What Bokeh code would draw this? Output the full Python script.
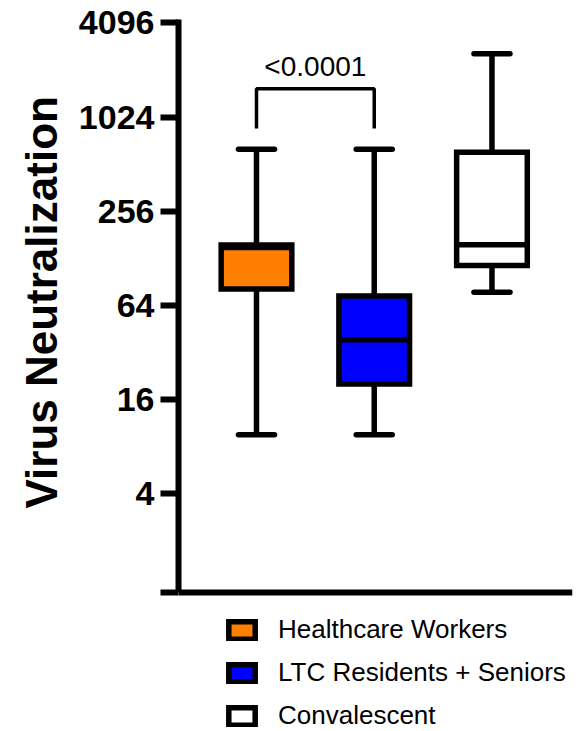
from bokeh.plotting import figure
from bokeh.models import Range1d, FixedTicker, Legend, LegendItem, Label, ColumnDataSource, Span, Title
from bokeh.embed import file_html
from bokeh.resources import INLINE

# ---- data ----
groups = ["Healthcare Workers", "LTC Residents + Seniors", "Convalescent"]
positions = [1, 2, 3]
colors = ["#FF8000", "#0000FF", "#FFFFFF"]
whisker_min = [9.5, 9.5, 77.6]
q1 = [81.4, 20.1, 115]
median = [150, 38.5, 156]
q3 = [155.6, 73.4, 611]
whisker_max = [638, 638, 2601]
y_ticks = [4, 16, 64, 256, 1024, 4096]
y_title = "Virus Neutralization"
p_label = "<0.0001"
# annotation bracket (between groups 1 and 2)
bracket_top = 1556
bracket_leg = 867
p_text_y = 2163

Y_AXIS_MIN = 2 ** -0.104
Y_AXIS_MAX = 2 ** 12.074
BOX_W = 0.6
CAP_HALF = 0.153

p = figure(width=578, height=731, output_backend="svg", toolbar_location=None,
           y_axis_type="log", x_axis_location=None,
           x_range=Range1d(0.3376, 3.684),
           y_range=Range1d(2 ** -3.058, Y_AXIS_MAX),
           min_border_left=178, min_border_right=6, min_border_top=19, min_border_bottom=0)
p.outline_line_color = None
p.grid.visible = False
p.background_fill_color = "white"
p.border_fill_color = "white"

# y axis
ya = p.yaxis[0]
ya.bounds = (Y_AXIS_MIN, Y_AXIS_MAX)
ya.ticker = FixedTicker(ticks=y_ticks + [Y_AXIS_MIN])
ya.major_label_overrides = {t: str(t) for t in y_ticks}
ya.major_label_overrides[Y_AXIS_MIN] = ""
ya.minor_tick_line_color = None
ya.axis_line_width = 6
ya.major_tick_line_width = 6
ya.major_tick_out = 18
ya.major_tick_in = 0
ya.major_label_standoff = 6
ya.major_label_text_font = "Liberation Sans"
ya.major_label_text_font_style = "bold"
ya.major_label_text_font_size = "34px"
ya.major_label_text_color = "black"

# y axis title, placed along the axis extent (not the full frame)
p.add_layout(Title(text=y_title, align="left", offset=223, standoff=19,
                   text_font="Liberation Sans", text_font_style="bold",
                   text_font_size="44px", text_color="black"), "left")

# x axis line (baseline of the plot area)
p.add_layout(Span(location=Y_AXIS_MIN, dimension="width", line_color="black", line_width=6))

src = ColumnDataSource(dict(x=positions, lo=whisker_min, q1=q1, med=median, q3=q3,
                            hi=whisker_max, color=colors, group=groups,
                            xl=[x - BOX_W / 2 for x in positions],
                            xr=[x + BOX_W / 2 for x in positions],
                            cl=[x - CAP_HALF for x in positions],
                            cr=[x + CAP_HALF for x in positions]))

# whisker stems
p.segment(x0="x", y0="lo", x1="x", y1="hi", source=src, line_color="black", line_width=5.5)
# caps
p.segment(x0="cl", y0="hi", x1="cr", y1="hi", source=src, line_color="black", line_width=5.5, line_cap="round")
p.segment(x0="cl", y0="lo", x1="cr", y1="lo", source=src, line_color="black", line_width=5.5, line_cap="round")

# boxes (one renderer per group for legend)
box_renderers = []
for i in range(3):
    r = p.quad(left=[positions[i] - BOX_W / 2], right=[positions[i] + BOX_W / 2],
               bottom=[q1[i]], top=[q3[i]], fill_color=colors[i],
               line_color="black", line_width=5.5, line_join="miter")
    box_renderers.append(r)
# medians
p.segment(x0="xl", y0="med", x1="xr", y1="med", source=src, line_color="black", line_width=5.5)

# significance bracket
p.line(x=[positions[0], positions[0], positions[1], positions[1]],
       y=[bracket_leg, bracket_top, bracket_top, bracket_leg],
       line_color="black", line_width=3.5)
p.add_layout(Label(x=(positions[0] + positions[1]) / 2, y=p_text_y, text=p_label,
                   text_align="center", text_baseline="alphabetic",
                   text_font="Liberation Sans", text_font_size="28px", text_color="black"))

legend = Legend(items=[LegendItem(label=groups[i], renderers=[box_renderers[i]]) for i in range(3)],
                location=(47, 0), orientation="vertical",
                glyph_width=33, glyph_height=22, label_height=30,
                label_standoff=20, spacing=12, padding=0, margin=0,
                border_line_alpha=0, background_fill_alpha=0,
                label_text_font="Liberation Sans", label_text_font_size="26px",
                label_text_color="black")
p.add_layout(legend, "center")

open("out.html", "w").write(file_html(p, INLINE))
